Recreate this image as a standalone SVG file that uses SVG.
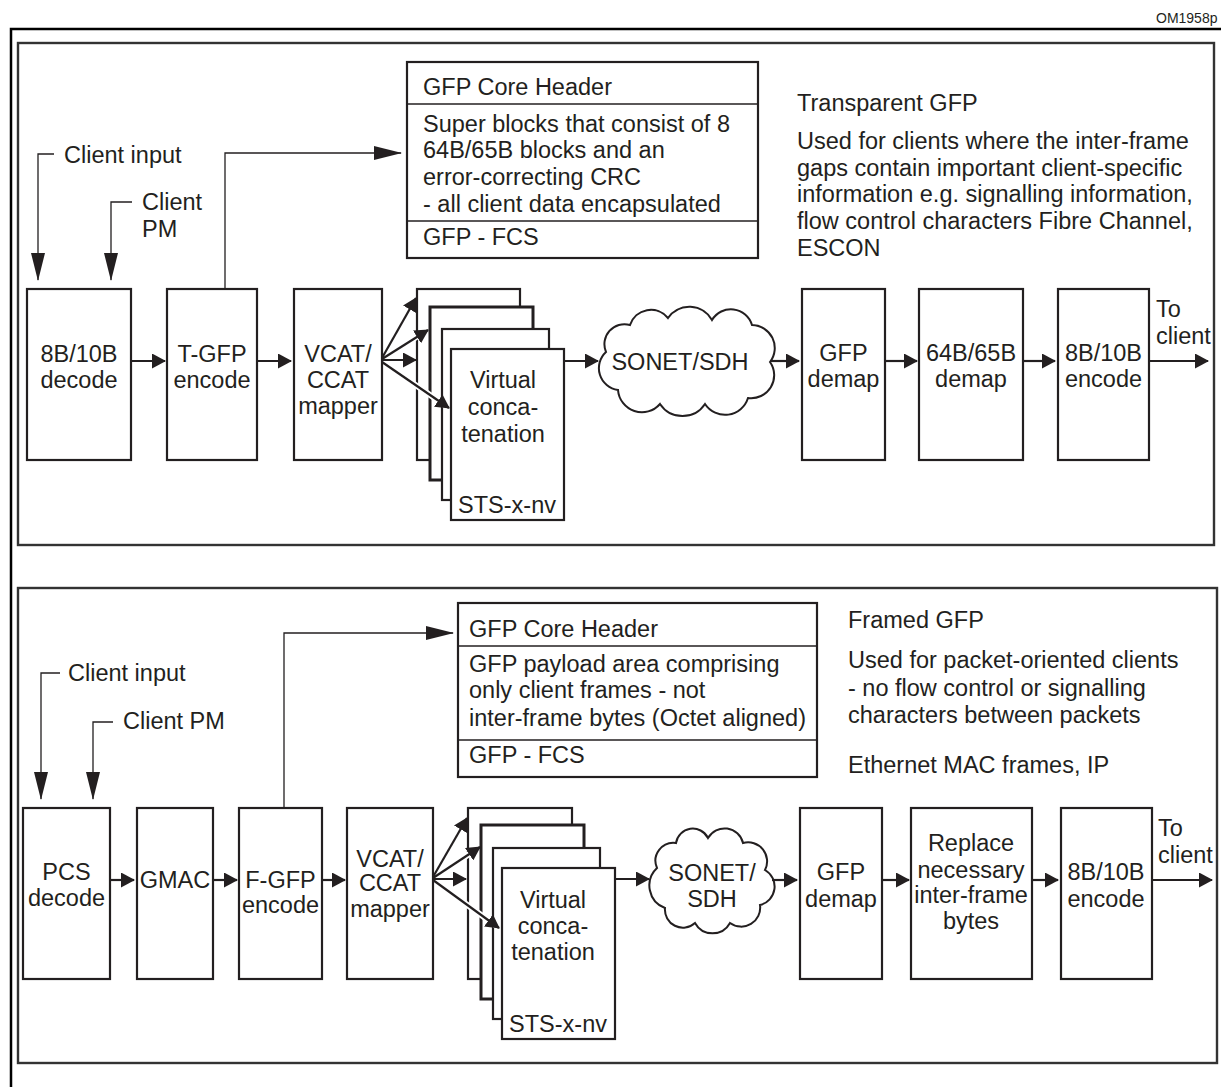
<svg xmlns="http://www.w3.org/2000/svg" width="1221" height="1087" viewBox="0 0 1221 1087">
<style>
text{font-family:"Liberation Sans",Arial,sans-serif;font-size:23.5px;fill:#231f20}
.c{text-anchor:middle}
.box{fill:#fff;stroke:#231f20;stroke-width:2.2}
.panel{fill:none;stroke:#333;stroke-width:2.4}
.thick{fill:none;stroke:#231f20;stroke-width:2.2}
.thin{fill:none;stroke:#231f20;stroke-width:1.3}
.halo{fill:none;stroke:#fff;stroke-width:6}
.cloud{fill:#fff;stroke:#231f20;stroke-width:2}
</style>
<defs>
<marker id="ah" viewBox="0 0 14 15" refX="13" refY="7.5" markerWidth="14" markerHeight="15" markerUnits="userSpaceOnUse" orient="auto"><path d="M0,0 L14,7.5 L0,15 Z" fill="#231f20"/></marker>
<marker id="ahl" viewBox="0 0 28 14" refX="27" refY="7" markerWidth="28" markerHeight="14" markerUnits="userSpaceOnUse" orient="auto"><path d="M0,0 L28,7 L0,14 Z" fill="#231f20"/></marker>
</defs>
<rect width="1221" height="1087" fill="#fff"/>
<g id="frame">
<path d="M1221,29 H11 V1087" fill="none" stroke="#000" stroke-width="2.5"/>
<text x="1156" y="23" style="font-size:14px">OM1958p</text>
</g>
<g id="panel-transparent"><rect class="panel" x="18" y="43" width="1196" height="502"/></g>
<g id="panel-framed"><rect class="panel" x="18" y="588" width="1199" height="475"/></g>

<!-- Top panel nodes -->
<g id="t-client-input-label"><text x="64" y="163">Client input</text></g>
<g id="t-client-pm-label"><text x="142" y="210">Client</text><text x="142" y="237">PM</text></g>
<g id="t-core-header">
<rect class="box" x="407" y="62" width="351" height="196"/>
<line class="thin" x1="407" y1="104" x2="758" y2="104"/>
<line class="thin" x1="407" y1="221" x2="758" y2="221"/>
<text x="423" y="95">GFP Core Header</text>
<text x="423" y="132">Super blocks that consist of 8</text>
<text x="423" y="158">64B/65B blocks and an</text>
<text x="423" y="185">error-correcting CRC</text>
<text x="423" y="212">- all client data encapsulated</text>
<text x="423" y="245">GFP - FCS</text>
</g>
<g id="t-desc">
<text x="797" y="111">Transparent GFP</text>
<text x="797" y="149">Used for clients where the inter-frame</text>
<text x="797" y="176">gaps contain important client-specific</text>
<text x="797" y="202">information e.g. signalling information,</text>
<text x="797" y="229">flow control characters Fibre Channel,</text>
<text x="797" y="256">ESCON</text>
</g>
<g id="t-8b10b-decode"><rect class="box" x="27" y="289" width="104" height="171"/><text class="c" x="79" y="362">8B/10B</text><text class="c" x="79" y="388">decode</text></g>
<g id="t-tgfp-encode"><rect class="box" x="167" y="289" width="90" height="171"/><text class="c" x="212" y="362">T-GFP</text><text class="c" x="212" y="388">encode</text></g>
<g id="t-mapper"><rect class="box" x="294" y="289" width="88" height="171"/><text class="c" x="338" y="362">VCAT/</text><text class="c" x="338" y="388">CCAT</text><text class="c" x="338" y="414">mapper</text></g>
<g id="t-vcat-stack">
<rect class="box" x="417" y="289" width="103" height="171"/>
<rect class="box" x="430" y="307" width="103" height="173" style="stroke-width:3"/>
<rect class="box" x="442" y="329" width="107" height="171"/>
<rect class="box" x="451" y="349" width="113" height="171"/>
<text class="c" x="503" y="388">Virtual</text>
<text class="c" x="503" y="415">conca-</text>
<text class="c" x="503" y="442">tenation</text>
<text class="c" x="507" y="513">STS-x-nv</text>
</g>
<g id="t-sonet">
<path class="cloud" d="M606,352 A20,20 0 0 1 630,325 A22,22 0 0 1 668,318 A26,26 0 0 1 712,320 A22,22 0 0 1 752,325 A23,23 0 0 1 770,362 A23,23 0 0 1 748,398 A24,24 0 0 1 705,404 A27,27 0 0 1 660,404 A24,24 0 0 1 618,390 A22,22 0 0 1 606,352 Z"/>
<text class="c" x="680" y="370">SONET/SDH</text>
</g>
<g id="t-gfp-demap"><rect class="box" x="802" y="289" width="83" height="171"/><text class="c" x="843.5" y="361">GFP</text><text class="c" x="843.5" y="387">demap</text></g>
<g id="t-64b65b-demap"><rect class="box" x="919" y="289" width="104" height="171"/><text class="c" x="971" y="361">64B/65B</text><text class="c" x="971" y="387">demap</text></g>
<g id="t-8b10b-encode"><rect class="box" x="1058" y="289" width="91" height="171"/><text class="c" x="1103.5" y="361">8B/10B</text><text class="c" x="1103.5" y="387">encode</text></g>
<g id="t-to-client"><text x="1156" y="317">To</text><text x="1156" y="344">client</text></g>

<!-- Bottom panel nodes -->
<g id="b-client-input-label"><text x="68" y="681">Client input</text></g>
<g id="b-client-pm-label"><text x="123" y="729">Client PM</text></g>
<g id="b-core-header">
<rect class="box" x="458" y="603" width="359" height="174"/>
<line class="thin" x1="458" y1="646" x2="817" y2="646"/>
<line class="thin" x1="458" y1="740" x2="817" y2="740"/>
<text x="469" y="637">GFP Core Header</text>
<text x="469" y="672">GFP payload area comprising</text>
<text x="469" y="698">only client frames - not</text>
<text x="469" y="726">inter-frame bytes (Octet aligned)</text>
<text x="469" y="763">GFP - FCS</text>
</g>
<g id="b-desc">
<text x="848" y="628">Framed GFP</text>
<text x="848" y="668">Used for packet-oriented clients</text>
<text x="848" y="696">- no flow control or signalling</text>
<text x="848" y="723">characters between packets</text>
<text x="848" y="773">Ethernet MAC frames, IP</text>
</g>
<g id="b-pcs-decode"><rect class="box" x="23" y="808" width="87" height="171"/><text class="c" x="66.5" y="880">PCS</text><text class="c" x="66.5" y="906">decode</text></g>
<g id="b-gmac"><rect class="box" x="137" y="808" width="76" height="171"/><text class="c" x="175" y="888">GMAC</text></g>
<g id="b-fgfp-encode"><rect class="box" x="239" y="808" width="83" height="171"/><text class="c" x="280.5" y="888">F-GFP</text><text class="c" x="280.5" y="913">encode</text></g>
<g id="b-mapper"><rect class="box" x="347" y="808" width="86" height="171"/><text class="c" x="390" y="867">VCAT/</text><text class="c" x="390" y="891">CCAT</text><text class="c" x="390" y="917">mapper</text></g>
<g id="b-vcat-stack">
<rect class="box" x="468" y="808" width="104" height="171"/>
<rect class="box" x="481" y="825" width="103" height="174" style="stroke-width:3"/>
<rect class="box" x="493" y="848" width="107" height="171"/>
<rect class="box" x="502" y="868" width="113" height="171"/>
<text class="c" x="553" y="908">Virtual</text>
<text class="c" x="553" y="934">conca-</text>
<text class="c" x="553" y="960">tenation</text>
<text class="c" x="558" y="1032">STS-x-nv</text>
</g>
<g id="b-sonet">
<path class="cloud" d="M657,868 A18,18 0 0 1 676,843 A17,17 0 0 1 708,838 A19,19 0 0 1 743,843 A19,19 0 0 1 765,870 A19,19 0 0 1 760,905 A19,19 0 0 1 730,923 A20,20 0 0 1 695,923 A18,18 0 0 1 665,908 A24,24 0 0 1 657,868 Z"/>
<text class="c" x="712" y="881">SONET/</text>
<text class="c" x="712" y="907">SDH</text>
</g>
<g id="b-gfp-demap"><rect class="box" x="800" y="808" width="82" height="171"/><text class="c" x="841" y="880">GFP</text><text class="c" x="841" y="907">demap</text></g>
<g id="b-replace"><rect class="box" x="911" y="808" width="121" height="171"/><text class="c" x="971" y="851">Replace</text><text class="c" x="971" y="878">necessary</text><text class="c" x="971" y="903">inter-frame</text><text class="c" x="971" y="929">bytes</text></g>
<g id="b-8b10b-encode"><rect class="box" x="1061" y="808" width="91" height="171"/><text class="c" x="1106" y="880">8B/10B</text><text class="c" x="1106" y="907">encode</text></g>
<g id="b-to-client"><text x="1158" y="836">To</text><text x="1158" y="863">client</text></g>

<g id="connectors">
<!-- top -->
<path class="thin" d="M54,154 H38 V280" marker-end="url(#ahl)"/>
<path class="thin" d="M132,202 H111 V280" marker-end="url(#ahl)"/>
<path class="thin" d="M225,289 V153 H401" marker-end="url(#ahl)"/>
<line class="thick" x1="131" y1="361" x2="165" y2="361" marker-end="url(#ah)"/>
<line class="thick" x1="257" y1="361" x2="291" y2="361" marker-end="url(#ah)"/>
<line class="halo" x1="400" y1="347.4" x2="421" y2="334"/>
<line class="halo" x1="408.8" y1="380.4" x2="445.7" y2="405.7"/>
<line class="thick" x1="382" y1="358" x2="416" y2="298" marker-end="url(#ah)"/>
<line class="thick" x1="382" y1="359" x2="428" y2="330" marker-end="url(#ah)"/>
<line class="thick" x1="382" y1="360" x2="416" y2="360" marker-end="url(#ah)"/>
<line class="thick" x1="382" y1="362" x2="449" y2="408" marker-end="url(#ah)"/>
<line class="thick" x1="564" y1="361" x2="598" y2="361" marker-end="url(#ah)"/>
<line class="thick" x1="770" y1="361" x2="799" y2="361" marker-end="url(#ah)"/>
<line class="thick" x1="885" y1="361" x2="917" y2="361" marker-end="url(#ah)"/>
<line class="thick" x1="1023" y1="361" x2="1055" y2="361" marker-end="url(#ah)"/>
<line class="thick" x1="1149" y1="361" x2="1208" y2="361" marker-end="url(#ah)"/>
<!-- bottom -->
<path class="thin" d="M60,673 H41 V799" marker-end="url(#ahl)"/>
<path class="thin" d="M113,722 H93 V799" marker-end="url(#ahl)"/>
<path class="thin" d="M284,808 V633 H453" marker-end="url(#ahl)"/>
<line class="thick" x1="110" y1="880" x2="134" y2="880" marker-end="url(#ah)"/>
<line class="thick" x1="213" y1="880" x2="237" y2="880" marker-end="url(#ah)"/>
<line class="thick" x1="322" y1="880" x2="345" y2="880" marker-end="url(#ah)"/>
<line class="halo" x1="456.5" y1="862.5" x2="475.3" y2="850.1"/>
<line class="halo" x1="459.4" y1="899.2" x2="495.7" y2="925.6"/>
<line class="thick" x1="433" y1="877" x2="467" y2="818" marker-end="url(#ah)"/>
<line class="thick" x1="433" y1="878" x2="480" y2="847" marker-end="url(#ah)"/>
<line class="thick" x1="433" y1="879" x2="466" y2="879" marker-end="url(#ah)"/>
<line class="thick" x1="433" y1="880" x2="499" y2="928" marker-end="url(#ah)"/>
<line class="thick" x1="615" y1="879" x2="649" y2="879" marker-end="url(#ah)"/>
<line class="thick" x1="772" y1="880" x2="797" y2="880" marker-end="url(#ah)"/>
<line class="thick" x1="882" y1="880" x2="909" y2="880" marker-end="url(#ah)"/>
<line class="thick" x1="1032" y1="880" x2="1058" y2="880" marker-end="url(#ah)"/>
<line class="thick" x1="1152" y1="880" x2="1212" y2="880" marker-end="url(#ah)"/>
</g>
</svg>
